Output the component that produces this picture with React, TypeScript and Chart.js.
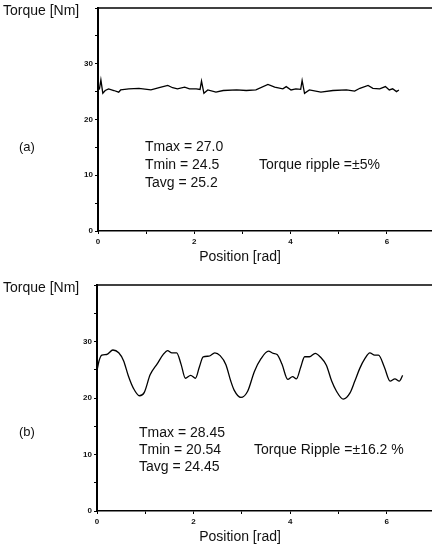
import React, { useEffect, useRef } from "react";
import { Chart, registerables } from "chart.js";

Chart.register(...registerables);

// ---- data ----
const posA = [0, 0.03, 0.06, 0.1, 0.15, 0.22, 0.33, 0.43, 0.47, 0.64, 0.85, 1.1, 1.27, 1.45, 1.55, 1.65, 1.8, 1.9, 2.04, 2.12, 2.15, 2.2, 2.28, 2.45, 2.6, 2.88, 3.08, 3.28, 3.53, 3.67, 3.84, 3.91, 4.01, 4.11, 4.21, 4.24, 4.29, 4.39, 4.63, 4.88, 5.16, 5.33, 5.44, 5.61, 5.71, 5.85, 5.97, 6.05, 6.12, 6.2, 6.25];
const torqueA = [25.3, 25.5, 27.1, 24.7, 25.2, 25.5, 25.2, 24.9, 25.3, 25.5, 25.6, 25.3, 25.7, 26.1, 25.7, 25.5, 25.8, 25.5, 25.5, 25.4, 26.9, 24.7, 25.3, 24.9, 25.2, 25.3, 25.2, 25.3, 26.3, 25.8, 25.5, 25.9, 25.3, 25.5, 25.4, 27.0, 24.7, 25.3, 24.9, 25.2, 25.3, 25.1, 25.6, 26.1, 25.6, 25.5, 25.9, 25.3, 25.5, 25.0, 25.3];

const posB = [0, 0.04, 0.1, 0.2, 0.33, 0.45, 0.55, 0.65, 0.75, 0.88, 0.98, 1.1, 1.25, 1.38, 1.46, 1.55, 1.65, 1.74, 1.83, 1.94, 2.04, 2.12, 2.2, 2.32, 2.44, 2.55, 2.67, 2.77, 2.84, 2.98, 3.12, 3.26, 3.4, 3.55, 3.65, 3.73, 3.83, 3.95, 4.05, 4.13, 4.22, 4.3, 4.4, 4.52, 4.63, 4.75, 4.86, 4.96, 5.1, 5.24, 5.34, 5.44, 5.55, 5.65, 5.75, 5.83, 5.95, 6.07, 6.17, 6.26, 6.33];
const torqueB = [24.8, 26.5, 27.6, 27.7, 28.5, 28.0, 26.6, 23.9, 21.8, 20.4, 21.0, 24.1, 26.1, 27.8, 28.4, 28.0, 28.0, 26.0, 23.5, 24.0, 23.5, 25.5, 27.3, 27.4, 28.0, 27.5, 25.9, 23.0, 21.4, 20.1, 21.2, 24.7, 27.0, 28.3, 27.9, 27.7, 26.0, 23.3, 23.8, 23.4, 25.5, 27.3, 27.3, 27.9, 27.2, 25.8, 23.0, 21.2, 19.8, 20.9, 23.0, 25.2, 27.0, 28.0, 27.6, 27.6, 25.5, 23.0, 23.4, 23.0, 24.0];

const yTickLabels = [0, 10, 20, 30];
const xTickLabels = [0, 2, 4, 6];
const yAxisTitle = "Torque [Nm]";
const xAxisTitle = "Position [rad]";

const statsA = ["Tmax = 27.0", "Tmin = 24.5", "Tavg = 25.2"];
const rippleA = "Torque ripple =\u00b15%";
const statsB = ["Tmax = 28.45", "Tmin = 20.54", "Tavg = 24.45"];
const rippleB = "Torque Ripple =\u00b116.2 %";

const FONT = '"Liberation Sans", Arial, Helvetica, sans-serif';

type PanelProps = {
  xs: number[];
  ys: number[];
  top: number;
  height: number;
  plotLeft: number;
  plotTop: number;
  plotBottom: number;
  tension: number;
  label: string;
  stats: string[];
  ripple: string;
  labelY: number;
  statsX: number;
  statsY: number;
  lineGap: number;
  rippleX: number;
};

function Panel(p: PanelProps) {
  const ref = useRef<HTMLCanvasElement | null>(null);
  useEffect(() => {
    const canvas = ref.current!;
    const textPlugin = {
      id: "texts",
      afterDraw(chart: any) {
        const ctx = chart.ctx as CanvasRenderingContext2D;
        const a = chart.chartArea;
        ctx.save();
        // top frame line
        ctx.strokeStyle = "#000";
        ctx.lineWidth = 1.5;
        ctx.beginPath();
        ctx.moveTo(a.left, a.top);
        ctx.lineTo(chart.width, a.top);
        ctx.stroke();
        ctx.fillStyle = "#111";
        ctx.textBaseline = "middle";
        ctx.textAlign = "left";
        ctx.font = `14px ${FONT}`;
        ctx.fillText(yAxisTitle, 3, a.top + 3);
        ctx.textAlign = "center";
        ctx.fillText(xAxisTitle, 240, a.bottom + 26);
        ctx.textAlign = "left";
        ctx.font = `13px ${FONT}`;
        ctx.fillText(p.label, 19, p.labelY);
        ctx.font = `14px ${FONT}`;
        p.stats.forEach((s, i) => ctx.fillText(s, p.statsX, p.statsY + i * p.lineGap));
        ctx.fillText(p.ripple, p.rippleX, p.statsY + p.lineGap);
        ctx.restore();
      },
    };
    const chart = new Chart(canvas, {
      type: "line",
      data: {
        datasets: [
          {
            data: p.xs.map((x, i) => ({ x, y: p.ys[i] })),
            borderColor: "#000",
            borderWidth: 1.3,
            pointRadius: 0,
            tension: p.tension,
            cubicInterpolationMode: p.tension > 0 ? "monotone" : "default",
            fill: false,
          },
        ],
      },
      options: {
        responsive: false,
        animation: false,
        devicePixelRatio: 1,
        layout: { padding: { top: p.plotTop, right: 5, left: 0, bottom: 0 } },
        plugins: { legend: { display: false }, tooltip: { enabled: false }, title: { display: false } },
        scales: {
          x: {
            type: "linear",
            min: 0,
            max: 7,
            afterFit: (s: any) => {
              s.height = p.height - p.plotBottom;
            },
            ticks: {
              stepSize: 1,
              autoSkip: false,
              maxRotation: 0,
              padding: 3,
              color: "#111",
              font: { family: FONT, size: 8, weight: "bold" },
              callback: (v: any) => (xTickLabels.includes(Number(v)) ? String(v) : ""),
            },
            grid: { display: true, drawOnChartArea: false, drawTicks: true, tickLength: 3, color: "#000", lineWidth: 1 },
            border: { display: true, color: "#000", width: 1.5 },
          },
          y: {
            type: "linear",
            min: 0,
            max: 40,
            afterFit: (s: any) => {
              s.width = p.plotLeft;
            },
            ticks: {
              stepSize: 5,
              autoSkip: false,
              padding: 2,
              color: "#111",
              font: { family: FONT, size: 8, weight: "bold" },
              callback: (v: any) => (yTickLabels.includes(Number(v)) ? String(v) : ""),
            },
            grid: { display: true, drawOnChartArea: false, drawTicks: true, tickLength: 3, color: "#000", lineWidth: 1 },
            border: { display: true, color: "#000", width: 2 },
          },
        },
      },
      plugins: [textPlugin],
    } as any);
    return () => chart.destroy();
  }, []);
  return (
    <div style={{ position: "absolute", left: 0, top: p.top, width: 432, height: p.height, overflow: "hidden" }}>
      <canvas ref={ref} width={440} height={p.height} style={{ display: "block" }} />
    </div>
  );
}

export default function App() {
  return (
    <div style={{ position: "absolute", left: 0, top: 0, width: 432, height: 551, overflow: "hidden", background: "#fff" }}>
      <Panel
        xs={posA}
        ys={torqueA}
        top={0}
        height={270}
        plotLeft={98}
        plotTop={8}
        plotBottom={231}
        tension={0}
        label="(a)"
        stats={statsA}
        ripple={rippleA}
        labelY={147}
        statsX={145}
        statsY={147}
        lineGap={18}
        rippleX={259}
      />
      <Panel
        xs={posB}
        ys={torqueB}
        top={270}
        height={281}
        plotLeft={97}
        plotTop={15}
        plotBottom={241}
        tension={0.4}
        label="(b)"
        stats={statsB}
        ripple={rippleB}
        labelY={162}
        statsX={139}
        statsY={163}
        lineGap={17}
        rippleX={254}
      />
    </div>
  );
}
